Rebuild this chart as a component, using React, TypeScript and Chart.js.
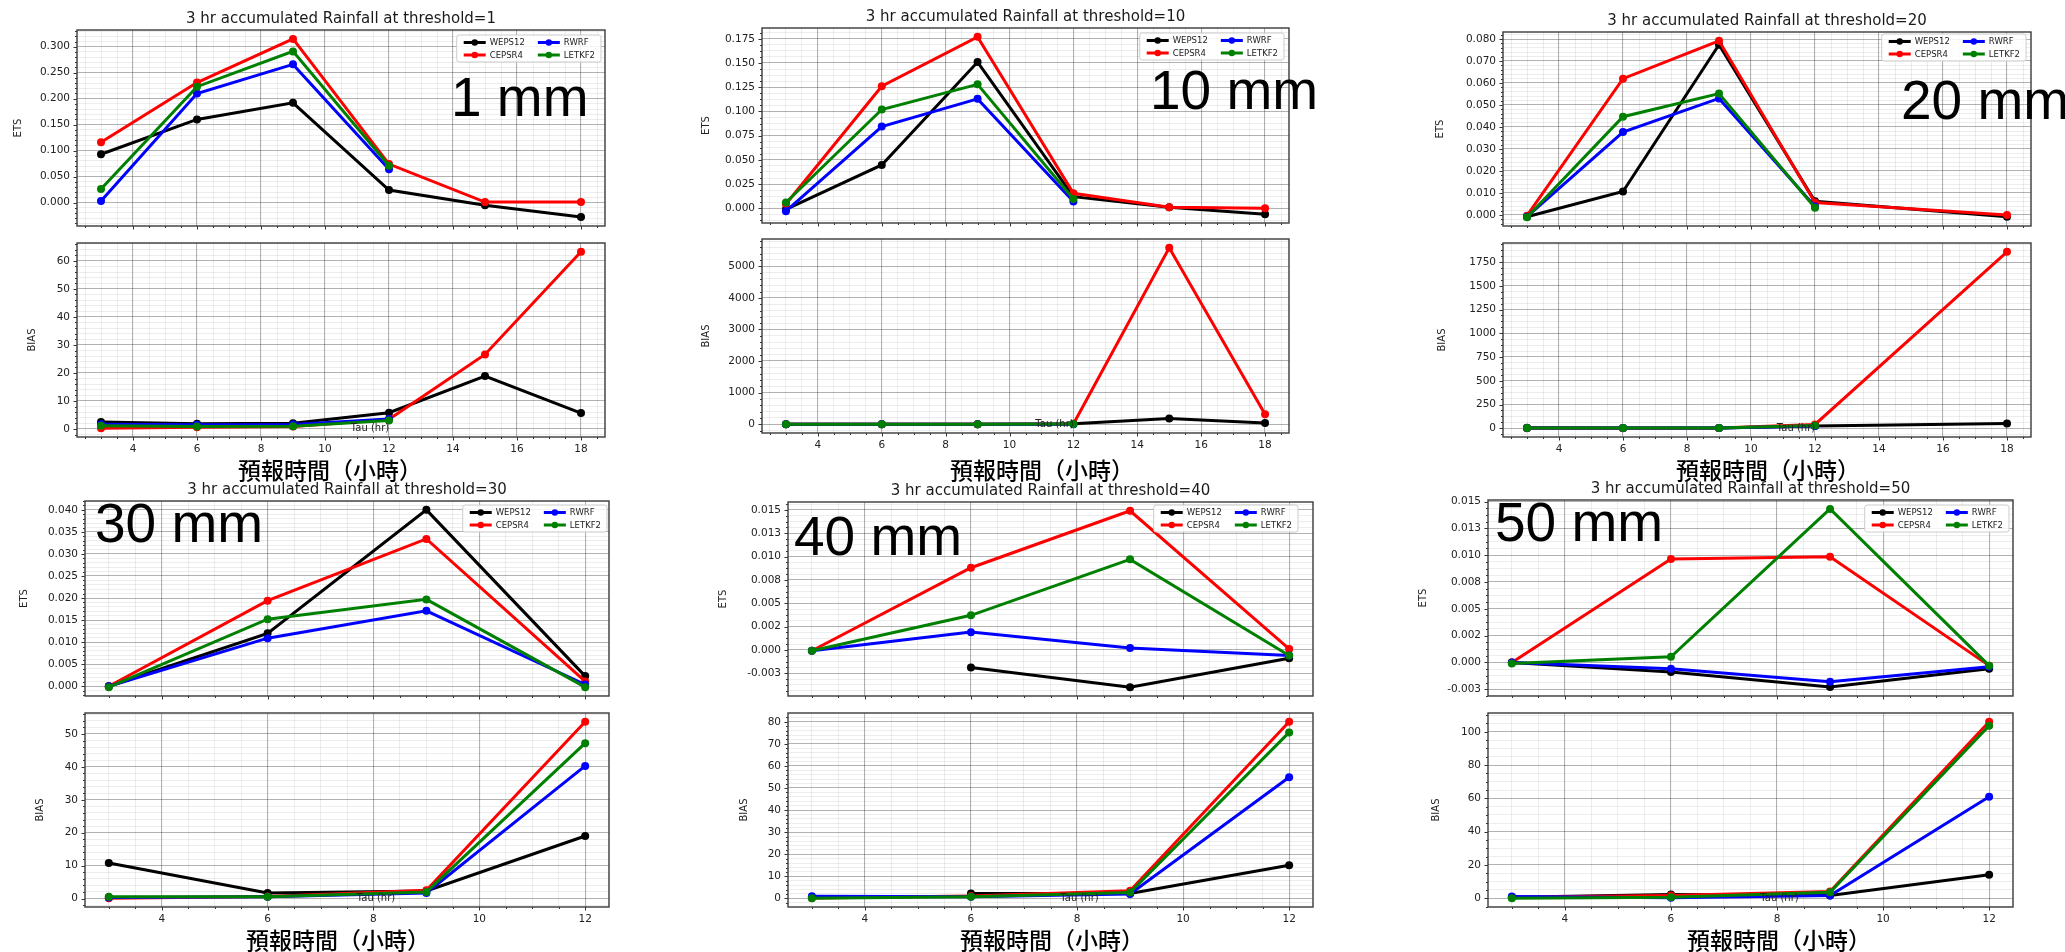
import React, { useEffect, useRef } from "react";
import { Chart, registerables } from "chart.js";

Chart.register(...registerables);

// ---------------- data ----------------
const MODELS = ["WEPS12", "CEPSR4", "RWRF", "LETKF2"];
const MODEL_COLORS = ["#000000", "#ff0000", "#0000ff", "#008000"];
const THRESHOLDS = [1, 10, 20, 30, 40, 50];
const TAU_LONG = [3, 6, 9, 12, 15, 18];
const TAU_SHORT = [3, 6, 9, 12];
const PANEL_TAUS = [TAU_LONG, TAU_LONG, TAU_LONG, TAU_SHORT, TAU_SHORT, TAU_SHORT];

const ETS_MAJOR_STEPS = [0.05, 0.025, 0.01, 0.005, 0.0025, 0.0025];
const BIAS_MAJOR_STEPS = [10, 1000, 250, 10, 10, 20];
const X_MAJOR_STEP = 2;
const ODD_ETS_TICKS = [-0.0025, 0.0025, 0.0075, 0.0125];
const ODD_ETS_TICK_LABELS = ["-0.003", "0.002", "0.008", "0.013"];

const TITLE_PREFIX = "3 hr accumulated Rainfall at threshold=";
const X_LABEL_CN = "預報時間（小時）";
const X_LABEL_EN = "Tau (hr)";

// rows follow MODELS order, columns follow the panel's tau list (null = no value)
const ETS_1 = [
  [0.093, 0.16, 0.192, 0.024, -0.005, -0.028],
  [0.116, 0.231, 0.315, 0.074, 0.001, 0.001],
  [0.003, 0.21, 0.266, 0.064, null, null],
  [0.026, 0.223, 0.291, 0.071, null, null],
];
const BIAS_1 = [
  [2.5, 1.9, 2.1, 5.8, 18.9, 5.7],
  [0.3, 0.6, 0.9, 3.5, 26.6, 63.2],
  [1.7, 1.5, 1.6, 3.6, null, null],
  [1.2, 0.9, 1.0, 3.0, null, null],
];
const ETS_10 = [
  [-0.001, 0.0448, 0.151, 0.012, 0.001, -0.006],
  [0.0045, 0.126, 0.177, 0.0155, 0.001, 0.0],
  [-0.003, 0.0844, 0.113, 0.007, null, null],
  [0.006, 0.102, 0.128, 0.0096, null, null],
];
const BIAS_10 = [
  [2, 2, 2, 15, 180, 35],
  [0.3, 0.8, 1.2, 8, 5585, 316],
  [1.5, 1.5, 1.5, 2, null, null],
  [1.5, 1.3, 1.3, 2.5, null, null],
];
const ETS_20 = [
  [-0.0008, 0.0107, 0.0774, 0.0062, null, -0.0008],
  [-0.0003, 0.062, 0.0792, 0.0057, null, 0.0],
  [-0.0008, 0.0377, 0.053, 0.0039, null, null],
  [-0.001, 0.0447, 0.0552, 0.0033, null, null],
];
const BIAS_20 = [
  [5, 3, 3, 25, null, 50],
  [1, 1, 2, 40, null, 1858],
  [3, 2, 2, 25, null, null],
  [3, 2, 2, 30, null, null],
];
const ETS_30 = [
  [0.0, 0.012, 0.04, 0.0023],
  [0.0, 0.0194, 0.0334, 0.0011],
  [0.0, 0.0109, 0.0171, 0.0004],
  [-0.0002, 0.0152, 0.0197, -0.0002],
];
const BIAS_30 = [
  [10.8, 1.7, 2.3, 19.0],
  [0.1, 0.6, 2.5, 53.7],
  [0.3, 0.5, 1.7, 40.3],
  [0.5, 0.5, 2.0, 47.2],
];
const ETS_40 = [
  [null, -0.0019, -0.004, -0.0009],
  [-0.0001, 0.0088, 0.0149, 0.0001],
  [-0.0001, 0.0019, 0.0002, -0.0006],
  [-0.0001, 0.0037, 0.0097, -0.0006],
];
const BIAS_40 = [
  [null, 2.2, 2.2, 15.0],
  [0.15, 1.05, 3.5, 80.0],
  [1.0, 0.75, 2.0, 54.9],
  [0.1, 0.75, 2.7, 75.2],
];
const ETS_50 = [
  [0.0, -0.0009, -0.0023, -0.0006],
  [0.0, 0.00965, 0.00984, -0.0003],
  [0.0, -0.0006, -0.0018, -0.0004],
  [-0.0001, 0.00053, 0.01431, -0.0003],
];
const BIAS_50 = [
  [0.6, 2.2, 1.6, 14.1],
  [0.6, 1.6, 4.0, 106],
  [1.0, 0.3, 1.6, 61.0],
  [0.0, 0.6, 3.6, 103.6],
];
const ETS_PANELS = [ETS_1, ETS_10, ETS_20, ETS_30, ETS_40, ETS_50];
const BIAS_PANELS = [BIAS_1, BIAS_10, BIAS_20, BIAS_30, BIAS_40, BIAS_50];

// ---------------- layout (page pixels) ----------------
type Rect = { l: number; t: number; r: number; b: number };
type PanelLayout = {
  ets: Rect;
  bias: Rect;
  etsLab: number;
  biasLab: number;
  leg: [number, number];
  big: [number, number];
  cn: [number, number];
};
const LAYOUT: PanelLayout[] = [
  { ets: { l: 77, t: 30, r: 605, b: 226 }, bias: { l: 77, t: 243, r: 605, b: 437 }, etsLab: 18, biasLab: 32, leg: [4, 5], big: [451, 70], cn: [330, 469] },
  { ets: { l: 762, t: 28, r: 1289, b: 223 }, bias: { l: 762, t: 239, r: 1289, b: 433 }, etsLab: 706, biasLab: 706, leg: [5, 5], big: [1150, 63], cn: [1042, 469] },
  { ets: { l: 1503, t: 32, r: 2031, b: 226 }, bias: { l: 1503, t: 243, r: 2031, b: 437 }, etsLab: 1440, biasLab: 1442, leg: [5, 2], big: [1901, 73], cn: [1768, 469] },
  { ets: { l: 85, t: 501, r: 609, b: 696 }, bias: { l: 85, t: 713, r: 609, b: 907 }, etsLab: 24, biasLab: 40, leg: [2, 4], big: [95, 496], cn: [338, 939] },
  { ets: { l: 788, t: 502, r: 1313, b: 696 }, bias: { l: 788, t: 713, r: 1313, b: 907 }, etsLab: 723, biasLab: 744, leg: [15, 3], big: [794, 509], cn: [1052, 939] },
  { ets: { l: 1488, t: 500, r: 2013, b: 696 }, bias: { l: 1488, t: 713, r: 2013, b: 907 }, etsLab: 1423, biasLab: 1436, leg: [4, 5], big: [1495, 495], cn: [1779, 939] },
];

const FONT = "'DejaVu Sans', 'Liberation Sans', sans-serif";
const MAJOR_GRID = "rgba(0,0,0,0.30)";
const MINOR_GRID = "rgba(0,0,0,0.07)";

// ---------------- helpers ----------------
function autoMinorDivs(step: number) {
  const mant = step / Math.pow(10, Math.floor(Math.log10(step) + 1e-9));
  return [1, 5, 10].some((m) => Math.abs(mant - m) < 1e-6) ? 5 : 4;
}
function makeTicks(min: number, max: number, major: number) {
  const minor = major / autoMinorDivs(major);
  const out: any[] = [];
  const k0 = Math.ceil(min / minor - 1e-9);
  const k1 = Math.floor(max / minor + 1e-9);
  for (let k = k0; k <= k1; k++) {
    const v = +(k * minor).toPrecision(12) + 0;
    const r = v / major;
    out.push({ value: v, isMajor: Math.abs(r - Math.round(r)) < 1e-6 });
  }
  return out;
}
function fmtY(kind: string, v: number) {
  if (kind === "BIAS") return String(Math.round(v));
  const i = ODD_ETS_TICKS.findIndex((t) => Math.abs(t - v) < 1e-12);
  return i >= 0 ? ODD_ETS_TICK_LABELS[i] : v.toFixed(3);
}

const framePlugin = {
  id: "mplFrame",
  afterDatasetsDraw(chart: any) {
    const { ctx, chartArea: a } = chart;
    ctx.save();
    ctx.strokeStyle = "#333";
    ctx.lineWidth = 1;
    const ys = chart.scales.y;
    for (const t of ys.ticks) {
      const p = Math.round(ys.getPixelForValue(t.value)) + 0.5;
      const len = t.isMajor ? 3.5 : 2;
      ctx.beginPath();
      ctx.moveTo(a.left, p);
      ctx.lineTo(a.left - len, p);
      ctx.stroke();
    }
    const xs = chart.scales.x;
    for (const t of xs.ticks) {
      const p = Math.round(xs.getPixelForValue(t.value)) + 0.5;
      const len = t.isMajor ? 3.5 : 2;
      ctx.beginPath();
      ctx.moveTo(p, a.bottom);
      ctx.lineTo(p, a.bottom + len);
      ctx.stroke();
    }
    ctx.strokeStyle = "#3a3a3a";
    ctx.lineWidth = 1.4;
    ctx.strokeRect(a.left, a.top, a.right - a.left, a.bottom - a.top);
    ctx.restore();
  },
};

const legendPlugin = {
  id: "mplLegend",
  afterDatasetsDraw(chart: any, _args: any, opts: any) {
    if (!opts || !opts.display) return;
    const { ctx, chartArea: a } = chart;
    const ds = chart.data.datasets;
    ctx.save();
    ctx.font = `8.5px ${FONT}`;
    const cols = [[0, 1], [2, 3]];
    const handle = 22, gap = 4, colGap = 13, padL = 7, padR = 6, rowH = 12.5, h = 27;
    const colW = cols.map((c) => Math.max(...c.map((i) => ctx.measureText(ds[i].label).width)));
    const w = padL + handle + gap + colW[0] + colGap + handle + gap + colW[1] + padR;
    const x0 = a.right - opts.right - w;
    const y0 = a.top + opts.top;
    const r = 2.5;
    ctx.beginPath();
    ctx.moveTo(x0 + r, y0);
    ctx.lineTo(x0 + w - r, y0);
    ctx.arcTo(x0 + w, y0, x0 + w, y0 + r, r);
    ctx.lineTo(x0 + w, y0 + h - r);
    ctx.arcTo(x0 + w, y0 + h, x0 + w - r, y0 + h, r);
    ctx.lineTo(x0 + r, y0 + h);
    ctx.arcTo(x0, y0 + h, x0, y0 + h - r, r);
    ctx.lineTo(x0, y0 + r);
    ctx.arcTo(x0, y0, x0 + r, y0, r);
    ctx.closePath();
    ctx.fillStyle = "rgba(255,255,255,0.85)";
    ctx.fill();
    ctx.strokeStyle = "#cccccc";
    ctx.lineWidth = 1;
    ctx.stroke();
    cols.forEach((c, ci) => {
      const cx = x0 + padL + (ci === 0 ? 0 : handle + gap + colW[0] + colGap);
      c.forEach((i, ri) => {
        const cy = y0 + 7.5 + ri * rowH;
        const col = ds[i].borderColor;
        ctx.strokeStyle = col;
        ctx.lineWidth = 3;
        ctx.beginPath();
        ctx.moveTo(cx, cy);
        ctx.lineTo(cx + handle, cy);
        ctx.stroke();
        ctx.fillStyle = col;
        ctx.beginPath();
        ctx.arc(cx + handle / 2, cy, 3.2, 0, Math.PI * 2);
        ctx.fill();
        ctx.fillStyle = "#222";
        ctx.textBaseline = "middle";
        ctx.textAlign = "left";
        ctx.fillText(ds[i].label, cx + handle + gap, cy + 0.5);
      });
    });
    ctx.restore();
  },
};

type PlotProps = {
  rect: Rect;
  labX: number;
  kind: "ETS" | "BIAS";
  tau: number[];
  values: (number | null)[][];
  major: number;
  showX: boolean;
  legend: [number, number] | null;
};

function PlotCanvas({ rect, labX, kind, tau, values, major, showX, legend }: PlotProps) {
  const ref = useRef<HTMLCanvasElement>(null);
  const cL = Math.round(labX - 8);
  const cT = Math.round(rect.t) - 16;
  const cR = Math.round(rect.r) + 10;
  const cB = Math.round(rect.b) + 26;
  const w = cR - cL;
  const h = cB - cT;

  useEffect(() => {
    if (!ref.current) return;
    const series = values.map((row) =>
      tau.map((x, j) => ({ x, y: row[j] })).filter((p) => p.y !== null && p.y !== undefined)
    );
    const ysAll = series.flat().map((p) => p.y as number);
    const lo = Math.min(...ysAll), hi = Math.max(...ysAll), sp = hi - lo;
    const yMin = lo - 0.05 * sp, yMax = hi + 0.05 * sp;
    const xsAll = series.flat().map((p) => p.x);
    const xlo = Math.min(...xsAll), xhi = Math.max(...xsAll), xsp = xhi - xlo;
    const xMin = xlo - 0.05 * xsp, xMax = xhi + 0.05 * xsp;
    const yLeftW = Math.round(rect.l) - cL;
    const titlePad = Math.max(labX - cL - 6, 0);

    const gridColor = (c: any) => (c.tick && c.tick.isMajor ? MAJOR_GRID : MINOR_GRID);
    const gridWidth = (c: any) => (c.tick && c.tick.isMajor ? 1.1 : 1);

    const chart = new Chart(ref.current, {
      type: "line",
      data: {
        datasets: series.map((pts, i) => ({
          label: MODELS[i],
          data: pts as any,
          borderColor: MODEL_COLORS[i],
          backgroundColor: MODEL_COLORS[i],
          pointBackgroundColor: MODEL_COLORS[i],
          pointBorderColor: MODEL_COLORS[i],
          borderWidth: 3,
          pointRadius: 4,
          pointHoverRadius: 4,
          pointBorderWidth: 0,
          tension: 0,
          fill: false,
          order: MODELS.length - i,
        })),
      },
      options: {
        animation: false,
        responsive: false,
        maintainAspectRatio: false,
        devicePixelRatio: 1,
        events: [],
        layout: { padding: { top: 16, right: 10, left: 0, bottom: 0 }, autoPadding: false },
        plugins: {
          legend: { display: false },
          tooltip: { enabled: false },
          title: { display: false },
          mplLegend: legend ? { display: true, right: legend[0], top: legend[1] } : { display: false },
        } as any,
        scales: {
          x: {
            type: "linear",
            min: xMin,
            max: xMax,
            afterBuildTicks: (s: any) => {
              s.ticks = makeTicks(xMin, xMax, X_MAJOR_STEP);
            },
            afterFit: (s: any) => {
              s.height = 26;
            },
            ticks: {
              autoSkip: false,
              maxRotation: 0,
              minRotation: 0,
              padding: 6,
              color: "#222",
              font: { family: FONT, size: 10.5 },
              callback: (_v: any, i: number, ticks: any[]) =>
                showX && ticks[i].isMajor ? String(ticks[i].value) : "",
            },
            grid: { drawTicks: false, color: gridColor, lineWidth: gridWidth },
            border: { display: false },
          },
          y: {
            type: "linear",
            min: yMin,
            max: yMax,
            afterBuildTicks: (s: any) => {
              s.ticks = makeTicks(yMin, yMax, major);
            },
            afterFit: (s: any) => {
              s.width = yLeftW;
            },
            ticks: {
              autoSkip: false,
              padding: 7,
              color: "#222",
              font: { family: FONT, size: 10.5 },
              callback: (_v: any, i: number, ticks: any[]) =>
                ticks[i].isMajor ? fmtY(kind, ticks[i].value) : "",
            },
            title: {
              display: true,
              text: kind,
              color: "#222",
              font: { family: FONT, size: 10 },
              padding: { top: titlePad, bottom: 0 },
            },
            grid: { drawTicks: false, color: gridColor, lineWidth: gridWidth },
            border: { display: false },
          },
        },
      } as any,
      plugins: [framePlugin, legendPlugin],
    });
    return () => chart.destroy();
  }, []);

  return (
    <canvas
      ref={ref}
      width={w}
      height={h}
      style={{ position: "absolute", left: cL, top: cT, width: w, height: h }}
    />
  );
}

function CenterText({ x, y, text, style }: { x: number; y: number; text: string; style: any }) {
  return (
    <div
      style={{
        position: "absolute",
        left: x,
        top: y,
        transform: "translate(-50%, -50%)",
        whiteSpace: "nowrap",
        lineHeight: 1,
        ...style,
      }}
    >
      {text}
    </div>
  );
}

export default function App() {
  return (
    <div
      style={{
        position: "absolute",
        left: 0,
        top: 0,
        width: 2065,
        height: 952,
        background: "#ffffff",
        overflow: "hidden",
      }}
    >
      {THRESHOLDS.map((th, p) => {
        const L = LAYOUT[p];
        const cxE = (L.ets.l + L.ets.r) / 2;
        const cxB = (L.bias.l + L.bias.r) / 2;
        return (
          <React.Fragment key={th}>
            <PlotCanvas
              rect={L.ets}
              labX={L.etsLab}
              kind="ETS"
              tau={PANEL_TAUS[p]}
              values={ETS_PANELS[p]}
              major={ETS_MAJOR_STEPS[p]}
              showX={false}
              legend={L.leg}
            />
            <PlotCanvas
              rect={L.bias}
              labX={L.biasLab}
              kind="BIAS"
              tau={PANEL_TAUS[p]}
              values={BIAS_PANELS[p]}
              major={BIAS_MAJOR_STEPS[p]}
              showX={true}
              legend={null}
            />
            <CenterText
              x={cxE}
              y={L.ets.t - 12}
              text={TITLE_PREFIX + th}
              style={{ fontFamily: FONT, fontSize: 15, color: "#1a1a1a" }}
            />
            <CenterText
              x={cxB + 29}
              y={L.bias.b - 9}
              text={X_LABEL_EN}
              style={{ fontFamily: FONT, fontSize: 10, color: "#222" }}
            />
            <CenterText
              x={L.cn[0]}
              y={L.cn[1]}
              text={X_LABEL_CN}
              style={{ fontFamily: "'Noto Sans CJK TC', 'Noto Sans CJK SC', sans-serif", fontSize: 23, fontWeight: 500, color: "#000" }}
            />
            <div
              style={{
                position: "absolute",
                left: L.big[0],
                top: L.big[1],
                fontFamily: "'Liberation Sans', Arial, sans-serif",
                fontSize: 55,
                lineHeight: 1,
                color: "#000",
                whiteSpace: "nowrap",
              }}
            >
              {th} mm
            </div>
          </React.Fragment>
        );
      })}
    </div>
  );
}
